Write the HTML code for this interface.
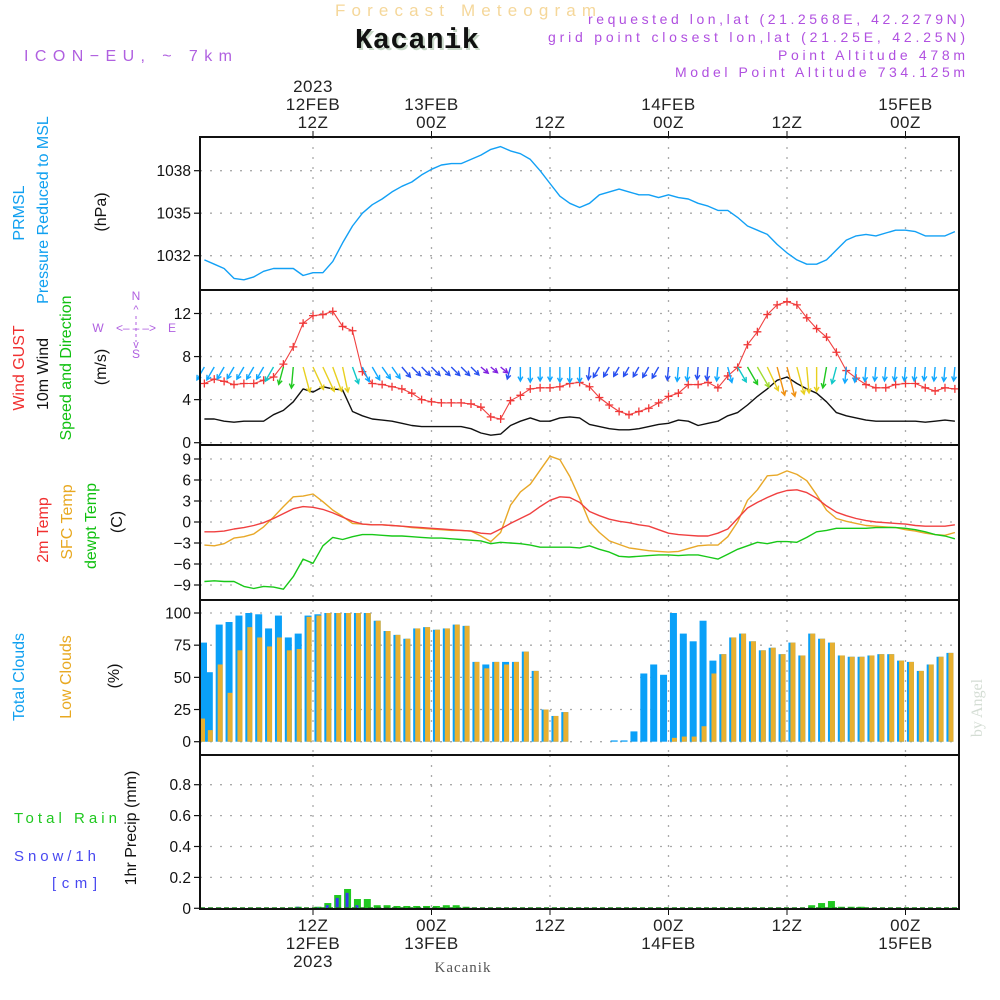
<!DOCTYPE html>
<html><head><meta charset="utf-8"><title>Meteogram Kacanik</title>
<style>
html,body{margin:0;padding:0;background:#fff;}
svg{display:block;font-family:"Liberation Sans",sans-serif;}
</style></head>
<body>
<svg id="chart" width="1000" height="1000" viewBox="0 0 1000 1000" xmlns="http://www.w3.org/2000/svg">
<rect x="0" y="0" width="1000" height="1000" fill="#fff"/>
<!-- Header -->
<text x="467" y="16" text-anchor="middle" font-size="17" fill="#f5d79a" letter-spacing="3" textLength="264">Forecast Meteogram</text>
<text x="419" y="50" text-anchor="middle" font-size="29" font-weight="bold" font-family="Liberation Mono, monospace" fill="#c8d8c8" textLength="124">Kacanik</text>
<text x="417" y="48" text-anchor="middle" font-size="29" font-weight="bold" font-family="Liberation Mono, monospace" fill="#111" textLength="124">Kacanik</text>
<text x="24" y="61" font-size="16" fill="#b060e0" textLength="208">ICON−EU, ~ 7km</text>
<g font-size="14" fill="#b050e0" text-anchor="end">
<text x="965" y="24" textLength="377">requested lon,lat (21.2568E, 42.2279N)</text>
<text x="965" y="42" textLength="417">grid point closest lon,lat (21.25E, 42.25N)</text>
<text x="965" y="60" textLength="187">Point Altitude 478m</text>
<text x="965" y="77" textLength="290">Model Point Altitude 734.125m</text>
</g>
<!-- Left labels -->
<g font-size="16" text-anchor="middle">
<text transform="translate(24,213) rotate(-90)" fill="#10a0f0">PRMSL</text>
<text transform="translate(48,210) rotate(-90)" fill="#10a0f0">Pressure Reduced to MSL</text>
<text transform="translate(106,212) rotate(-90)" fill="#111">(hPa)</text>
<text transform="translate(24,368) rotate(-90)" fill="#f03030">Wind GUST</text>
<text transform="translate(48,374) rotate(-90)" fill="#111">10m Wind</text>
<text transform="translate(71,368) rotate(-90)" fill="#10c010">Speed and Direction</text>
<text transform="translate(106,367) rotate(-90)" fill="#111">(m/s)</text>
<text transform="translate(48,530) rotate(-90)" fill="#f03030">2m Temp</text>
<text transform="translate(72,522) rotate(-90)" fill="#e8a820">SFC Temp</text>
<text transform="translate(96,526) rotate(-90)" fill="#10c010">dewpt Temp</text>
<text transform="translate(122,522) rotate(-90)" fill="#111">(C)</text>
<text transform="translate(24,677) rotate(-90)" fill="#10a0f0">Total Clouds</text>
<text transform="translate(71,677) rotate(-90)" fill="#e8a820">Low Clouds</text>
<text transform="translate(119,676) rotate(-90)" fill="#111">(%)</text>
<text transform="translate(136,828) rotate(-90)" fill="#111">1hr Precip (mm)</text>
</g>
<g font-size="15">
<text x="14" y="823" fill="#20c820" textLength="103">Total   Rain</text>
<text x="14" y="861" fill="#4848f0" textLength="82">Snow/1h</text>
<text x="52" y="888" fill="#4848f0" textLength="45">[cm]</text>
</g>
<g font-size="12" fill="#b060e0" text-anchor="middle">
<text x="136" y="300">N</text>
<text x="136" y="358">S</text>
<text x="98" y="332">W</text>
<text x="172" y="332">E</text>
<text x="136" y="332" font-size="12" textLength="40">&lt;– – –&gt;</text>
<text x="136" y="313" font-size="11">^</text>
<line x1="136" y1="316" x2="136" y2="342" stroke="#b060e0" stroke-dasharray="3,3"/>
<text x="136" y="348" font-size="11">v</text>
</g>
<text transform="translate(982,708) rotate(-90)" font-family="Liberation Serif, serif" font-size="16" fill="#d4ddd4" text-anchor="middle">by Angel</text>
<text x="463" y="972" font-family="Liberation Serif, serif" font-size="15" fill="#555" text-anchor="middle" letter-spacing="1">Kacanik</text>
<g id="layer"></g>
</svg>
<script>
// ---- Data (hourly, h = hours after 00Z 12FEB2023) ----
const hours = [1,2,3,4,5,6,7,8,9,10,11,12,13,14,15,16,17,18,19,20,21,22,23,24,25,26,27,28,29,30,31,32,33,34,35,36,37,38,39,40,41,42,43,44,45,46,47,48,49,50,51,52,53,54,55,56,57,58,59,60,61,62,63,64,65,66,67,68,69,70,71,72,73,74,75,76,77];
const pressure = [1031.7,1031.4,1031.1,1030.4,1030.3,1030.5,1030.9,1031.1,1031.1,1031.1,1030.6,1030.8,1030.8,1031.6,1032.9,1034.1,1035.0,1035.6,1036.0,1036.5,1036.9,1037.2,1037.7,1038.1,1038.4,1038.5,1038.5,1038.8,1039.1,1039.5,1039.7,1039.4,1039.2,1038.8,1038.0,1037.1,1036.2,1035.7,1035.4,1035.7,1036.3,1036.5,1036.7,1036.5,1036.3,1036.3,1036.1,1036.3,1036.1,1036.0,1035.7,1035.5,1035.2,1035.2,1034.7,1034.1,1033.8,1033.5,1032.8,1032.2,1031.7,1031.4,1031.4,1031.7,1032.4,1033.1,1033.4,1033.5,1033.4,1033.6,1033.8,1033.8,1033.7,1033.4,1033.4,1033.4,1033.7];
const windGust = [5.5,5.9,5.7,5.4,5.5,5.5,5.8,6.1,7.3,8.9,11.1,11.8,11.9,12.2,10.8,10.4,6.6,5.5,5.4,5.2,5.0,4.6,4.0,3.8,3.7,3.7,3.7,3.6,3.3,2.4,2.2,3.9,4.4,5.0,5.1,5.1,5.2,5.5,5.6,5.2,4.2,3.5,2.9,2.6,2.9,3.2,3.7,4.3,4.6,5.4,5.4,5.6,5.1,6.2,7.0,9.1,10.3,11.9,12.8,13.1,12.8,11.6,10.6,9.8,8.4,6.7,6.0,5.4,5.1,5.1,5.4,5.5,5.5,5.1,4.8,5.1,5.0];
const windSpeed = [2.2,2.2,2.0,1.9,2.0,2.0,2.0,2.6,3.0,3.8,5.0,4.7,5.2,5.0,4.9,2.9,2.5,2.2,2.1,2.0,1.8,1.6,1.5,1.5,1.5,1.5,1.5,1.3,0.9,0.7,0.8,1.6,2.0,2.3,2.0,2.0,2.3,2.4,2.3,1.7,1.5,1.3,1.2,1.2,1.3,1.5,1.7,1.8,2.1,2.0,1.6,1.8,2.0,2.5,2.8,3.5,4.3,5.0,5.8,6.1,5.5,5.0,4.6,3.8,2.8,2.5,2.3,2.1,2.0,2.0,2.0,2.0,2.0,1.9,2.0,2.1,2.0];
const windDir = [-30,-30,-30,-30,-30,-30,-30,-30,-15,-5,15,25,25,20,12,20,25,30,35,35,40,45,45,45,45,45,45,45,50,50,50,-15,0,0,0,0,0,0,0,-5,-30,-30,-30,-30,-30,-30,-30,-5,-5,-5,-5,-5,-5,15,30,30,30,25,15,15,15,5,0,-10,-15,-5,-5,-5,-5,-5,-5,-5,-5,-5,-5,-5,-5];
const temp2m = [-1.4,-1.4,-1.3,-1.0,-0.8,-0.5,-0.1,0.5,1.2,1.9,2.2,2.1,1.8,1.3,0.7,0.1,-0.3,-0.4,-0.4,-0.5,-0.6,-0.7,-0.8,-0.9,-1.0,-1.1,-1.2,-1.3,-1.6,-1.7,-1.0,-0.2,0.5,1.2,2.2,3.1,3.6,3.5,2.8,1.5,0.9,0.4,0.1,-0.1,-0.4,-0.6,-1.1,-1.6,-1.8,-1.9,-2.0,-2.0,-1.6,-1.0,0.5,2.0,2.8,3.5,4.1,4.5,4.6,4.2,3.4,2.3,1.4,0.9,0.5,0.2,0.0,-0.1,-0.2,-0.3,-0.5,-0.6,-0.6,-0.6,-0.4];
const tempSfc = [-3.3,-3.4,-3.1,-2.3,-2.1,-1.7,-0.7,0.7,2.2,3.6,3.7,4.0,2.9,1.7,0.8,-0.2,-0.3,-0.4,-0.4,-0.5,-0.6,-0.8,-0.9,-1.0,-1.1,-1.2,-1.2,-1.3,-2.0,-2.8,-1.5,2.4,4.3,5.4,7.4,9.4,8.9,6.5,3.4,0.0,-1.5,-2.7,-3.2,-3.7,-3.9,-4.1,-4.2,-4.3,-4.2,-3.8,-3.4,-3.3,-3.3,-2.1,0.0,3.1,4.6,6.6,6.7,7.3,6.8,5.9,3.9,1.7,0.5,0.1,-0.2,-0.5,-0.6,-0.7,-0.8,-1.1,-1.3,-1.6,-1.8,-1.9,-1.5];
const dewpt = [-8.5,-8.4,-8.5,-8.5,-9.2,-9.5,-9.2,-9.3,-9.6,-7.8,-5.3,-5.9,-3.4,-2.2,-2.5,-2.1,-1.8,-1.8,-1.9,-2.0,-2.0,-2.1,-2.2,-2.3,-2.3,-2.4,-2.5,-2.6,-2.7,-3.1,-2.9,-3.0,-3.1,-3.3,-3.6,-3.6,-3.6,-3.6,-3.7,-3.4,-3.9,-4.3,-4.9,-5.0,-4.9,-4.8,-4.7,-4.7,-4.8,-4.7,-4.7,-5.0,-5.3,-4.6,-3.9,-3.4,-2.9,-3.1,-2.8,-2.8,-2.9,-2.2,-1.4,-1.2,-0.9,-0.9,-0.9,-0.9,-0.8,-0.8,-0.8,-0.9,-1.1,-1.4,-1.8,-2.0,-2.4];
// bar categories: hour index i covers hour i..i+1
const totalClouds = [77,54,91,93,98,100,99,88,98,81,84,98,99,100,100,100,100,100,94,86,83,80,88,89,87,88,91,90,62,60,62,62,62,70,55,25,20,23,0,0,0,0,1,1,8,53,60,52,100,84,78,94,63,68,81,84,78,71,73,68,77,67,84,80,77,67,66,66,67,68,68,63,62,55,60,66,69];
const lowClouds = [18,9,60,38,71,89,81,74,81,71,72,97,98,100,100,100,100,100,94,86,83,80,88,89,87,88,91,90,62,57,62,60,62,70,55,25,20,23,0,0,0,0,0,0,0,0,0,0,3,4,4,12,53,68,81,84,78,71,73,68,77,67,84,80,77,67,66,66,67,68,68,63,62,55,60,66,69];
const rainTotal = [0,0,0,0,0,0,0,0,0,0,0.01,0,0.01,0.034,0.086,0.125,0.06,0.06,0.02,0.02,0.015,0.015,0.015,0.015,0.015,0.02,0.02,0.01,0,0,0,0,0,0,0,0,0,0,0,0,0,0,0,0,0,0,0,0,0,0,0,0,0,0,0,0,0,0,0,0,0,0,0.02,0.034,0.047,0.01,0.01,0.01,0,0,0,0,0,0,0,0,0];
const snow = [0,0,0,0,0,0,0,0,0,0,0.01,0,0.005,0.02,0.067,0.1,0.02,0,0,0,0,0,0,0,0,0,0,0,0,0,0,0,0,0,0,0,0,0,0,0,0,0,0,0,0,0,0,0,0,0,0,0,0,0,0,0,0,0,0,0,0,0,0,0,0,0,0,0,0,0,0,0,0,0,0,0,0];
const pressureTicks = [1032,1035,1038];
const windTicks = [0,4,8,12];
const tempTicks = [-9,-6,-3,0,3,6,9];
const cloudTicks = [0,25,50,75,100];
const precipTicks = [0,0.2,0.4,0.6,0.8];
const timeTicks = [12,24,36,48,60,72];
const topTickLabels = [["2023","12FEB","12Z"],["","13FEB","00Z"],["","","12Z"],["","14FEB","00Z"],["","","12Z"],["","15FEB","00Z"]];
const bottomTickLabels = [["12Z","12FEB","2023"],["00Z","13FEB",""],["12Z","",""],["00Z","14FEB",""],["12Z","",""],["00Z","15FEB",""]];

// ---- Scales ----
const X0 = 200, X1 = 959;
const X = h => 313 + (h - 12) * 9.875;
const lin = (d0, d1, r0, r1) => v => r0 + (v - d0) * (r1 - r0) / (d1 - d0);
const panels = [
  {name:'pressure', top:137, bot:290, y: lin(1032,1038,255.7,170.7), ticks: pressureTicks, fmt: v=>String(v)},
  {name:'wind', top:290, bot:445, y: lin(0,12,442.7,313.5), ticks: windTicks, fmt: v=>String(v)},
  {name:'temperature', top:445, bot:600, y: lin(-9,9,585,459), ticks: tempTicks, fmt: v=>v<0?'−'+(-v):String(v)},
  {name:'clouds', top:600, bot:755, y: lin(0,100,741.7,613), ticks: cloudTicks, fmt: v=>String(v)},
  {name:'precip', top:755, bot:909, y: lin(0,0.8,908.3,784.7), ticks: precipTicks, fmt: v=>v===0?'0':v.toFixed(1)}
];
const NS = 'http://www.w3.org/2000/svg';
const layer = document.getElementById('layer');
function mk(tag, attrs, parent) {
  const e = document.createElementNS(NS, tag);
  for (const k in attrs) e.setAttribute(k, attrs[k]);
  (parent || layer).appendChild(e);
  return e;
}
function polyline(vals, yf, color, name, width) {
  const pts = hours.map((h, i) => X(h).toFixed(1) + ',' + yf(vals[i]).toFixed(1)).join(' ');
  const p = mk('polyline', {points: pts, fill: 'none', stroke: color, 'stroke-width': width || 1.3, 'stroke-linejoin': 'round'});
  
  
  return p;
}

// ---- Grid, axes, ticks ----
panels.forEach(P => {
  const g = mk('g', {});
  
  
  P.ticks.forEach(t => {
    const y = P.y(t);
    mk('line', {x1: X0, x2: X1, y1: y, y2: y, stroke: '#aaa', 'stroke-width': 1.3, 'stroke-dasharray': '2,8'}, g);
    mk('line', {x1: X0 - 6, x2: X0, y1: y, y2: y, stroke: '#111', 'stroke-width': 1.2}, g);
    const tx = mk('text', {x: X0 - 9, y: y + 5.5, 'text-anchor': 'end', 'font-size': 15.5, fill: '#111'}, g);
    tx.textContent = P.fmt(t);
    
    
  });
  timeTicks.forEach(h => {
    mk('line', {x1: X(h), x2: X(h), y1: P.top, y2: P.bot, stroke: '#aaa', 'stroke-width': 1.3, 'stroke-dasharray': '2,8'}, g);
  });
});

// ---- Cloud bars ----
totalClouds.forEach((v, i) => {
  const cx = X(i + 0.5), y = panels[3].y;
  const r = mk('rect', {x: Math.max(X0, cx - 3.5), y: y(v), width: Math.min(7, X1 - Math.max(X0, cx - 3.5)), height: Math.max(0, y(0) - y(v)), fill: '#0aa0f8'});
  
  
  const lv = lowClouds[i];
  const lx = Math.max(X0, cx - 1.5);
  const l = mk('rect', {x: lx, y: y(lv), width: Math.max(0, Math.min(5, X1 - lx)), height: Math.max(0, y(0) - y(lv)), fill: '#e8b030'});
  
  
});

// ---- Precip bars ----
rainTotal.forEach((v, i) => {
  const cx = X(i + 0.5), y = panels[4].y;
  if (v > 0) {
    const r = mk('rect', {x: cx - 3.5, y: y(v), width: 7, height: y(0) - y(v), fill: '#20c820'});
    
    
  }
  const s = snow[i];
  if (s > 0) {
    const b = mk('rect', {x: cx - 2, y: y(s), width: 3, height: y(0) - y(s), fill: '#3838f0'});
    
    
  }
});
mk('line', {x1: X0, x2: X1, y1: 908, y2: 908, stroke: '#1a8a1a', 'stroke-width': 1.5, 'stroke-dasharray': '5,3'});

// ---- Lines ----
polyline(pressure, panels[0].y, '#12a0f5', 'pressure-line', 1.4);
polyline(windSpeed, panels[1].y, '#111', 'wind-speed-line', 1.4);
polyline(windGust, panels[1].y, '#f04040', 'wind-gust-line', 1.1);
hours.forEach((h, i) => {
  const x = X(h), y = panels[1].y(windGust[i]);
  const m = mk('path', {d: `M${x-4},${y}h8M${x},${y-4}v8`, stroke: '#f03838', 'stroke-width': 1.3});
  
  
});
polyline(tempSfc, panels[2].y, '#e8a828', 'sfc-temp-line', 1.4);
polyline(temp2m, panels[2].y, '#f04040', '2m-temp-line', 1.4);
polyline(dewpt, panels[2].y, '#18c818', 'dewpt-line', 1.4);

// ---- Wind arrows ----
function arrowColor(s) {
  if (s <= 1.0) return '#8020e0';
  if (s <= 1.8) return '#2850f0';
  if (s <= 2.5) return '#10a8ff';
  if (s <= 2.9) return '#10c8c8';
  if (s <= 3.8) return '#20c820';
  if (s <= 4.5) return '#a0dc30';
  if (s <= 5.5) return '#e8d020';
  return '#f09010';
}
hours.forEach((h, i) => {
  const s = windSpeed[i], a = windDir[i] * Math.PI / 180;
  const L = 6 + 4 * s, x0 = X(h), y0 = 367;
  const dx = Math.sin(a), dy = Math.cos(a);
  const x1 = x0 + L * dx, y1 = y0 + L * dy;
  const hl = 5, ha = 0.5;
  const bx = -dx, by = -dy;
  const h1x = x1 + hl * (bx * Math.cos(ha) - by * Math.sin(ha)), h1y = y1 + hl * (bx * Math.sin(ha) + by * Math.cos(ha));
  const h2x = x1 + hl * (bx * Math.cos(-ha) - by * Math.sin(-ha)), h2y = y1 + hl * (bx * Math.sin(-ha) + by * Math.cos(-ha));
  const p = mk('path', {d: `M${x0},${y0}L${x1},${y1}M${h1x},${h1y}L${x1},${y1}L${h2x},${h2y}`, stroke: arrowColor(s), 'stroke-width': 1.4, fill: 'none'});
  
  
});

// ---- Frames ----
[137, 290, 445, 600, 755, 909].forEach(y => {
  mk('line', {x1: X0 - 1, x2: X1 + 1, y1: y, y2: y, stroke: '#111', 'stroke-width': 2});
});
mk('line', {x1: X0, x2: X0, y1: 136, y2: 910, stroke: '#111', 'stroke-width': 2});
mk('line', {x1: X1, x2: X1, y1: 136, y2: 910, stroke: '#111', 'stroke-width': 2});

// ---- Time labels ----
timeTicks.forEach((h, k) => {
  const x = X(h);
  mk('line', {x1: x, x2: x, y1: 131, y2: 137, stroke: '#111', 'stroke-width': 1});
  mk('line', {x1: x, x2: x, y1: 909, y2: 915, stroke: '#111', 'stroke-width': 1});
  topTickLabels[k].forEach((t, j) => {
    if (!t) return;
    const e = mk('text', {x: x, y: 92 + j * 18, 'text-anchor': 'middle', 'font-size': 17, fill: '#222', 'letter-spacing': 0.5});
    e.textContent = t;
    
    
  });
  bottomTickLabels[k].forEach((t, j) => {
    if (!t) return;
    const e = mk('text', {x: x, y: 931 + j * 18, 'text-anchor': 'middle', 'font-size': 17, fill: '#222', 'letter-spacing': 0.5});
    e.textContent = t;
    
    
  });
});
</script>
</body></html>
